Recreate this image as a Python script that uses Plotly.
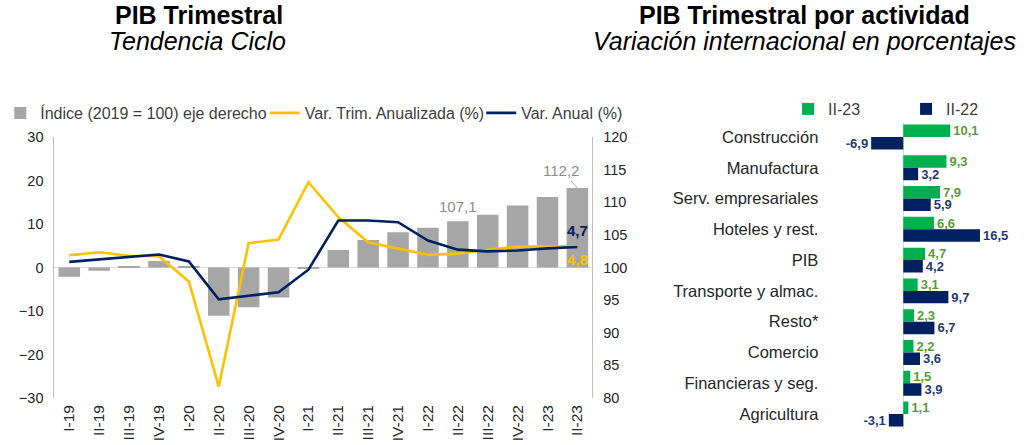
import plotly.graph_objects as go

W, H = 1029, 445

# ---------------- data ----------------
quarters = ["I-19", "II-19", "III-19", "IV-19", "I-20", "II-20", "III-20", "IV-20",
            "I-21", "II-21", "III-21", "IV-21", "I-22", "II-22", "III-22", "IV-22",
            "I-23", "II-23"]
indice = [98.6, 99.5, 100.2, 101.0, 100.2, 92.6, 93.9, 95.4,
          99.9, 102.7, 104.2, 105.4, 106.1, 107.1, 108.1, 109.5, 110.8, 112.2]
var_trim = [2.8, 3.5, 2.7, 2.6, -3.2, -27.4, 5.6, 6.4,
            19.6, 11.6, 5.8, 4.3, 2.9, 3.2, 4.1, 4.8, 4.8, 4.8]
var_anual = [1.3, 1.9, 2.5, 3.0, 1.4, -7.3, -6.5, -5.7,
             -0.5, 10.8, 10.8, 10.4, 6.2, 4.1, 3.7, 3.9, 4.4, 4.7]

actividades = ["Construcción", "Manufactura", "Serv. empresariales", "Hoteles y rest.",
               "PIB", "Transporte y almac.", "Resto*", "Comercio",
               "Financieras y seg.", "Agricultura"]
ii23 = [10.1, 9.3, 7.9, 6.6, 4.7, 3.1, 2.3, 2.2, 1.5, 1.1]
ii22 = [-6.9, 3.2, 5.9, 16.5, 4.2, 9.7, 6.7, 3.6, 3.9, -3.1]


def fmt(v):
    return f"{v:.1f}".replace(".", ",")


FONT = "Arial, Liberation Sans, sans-serif"
GRAY = "#A6A6A6"
YEL = "#FFC000"
NAVY = "#002060"
GREEN = "#00B050"
AXC = "#BFBFBF"
TXT = "#262626"

fig = go.Figure()

# ---------------- left chart ----------------
fig.add_trace(go.Bar(
    x=quarters, y=[v - 100 for v in indice], base=100, width=0.72,
    marker=dict(color=GRAY, line=dict(width=0)),
    name="Índice (2019 = 100) eje derecho", xaxis="x", yaxis="y", legend="legend"))
fig.add_trace(go.Scatter(
    x=quarters, y=var_trim, mode="lines", line=dict(color=YEL, width=2.6),
    name="Var. Trim. Anualizada (%)", xaxis="x", yaxis="y2", legend="legend2"))
fig.add_trace(go.Scatter(
    x=quarters, y=var_anual, mode="lines", line=dict(color=NAVY, width=2.6),
    name="Var. Anual (%)", xaxis="x", yaxis="y2", legend="legend3"))

# ---------------- right chart ----------------
fig.add_trace(go.Bar(
    y=actividades, x=ii23, orientation="h", marker=dict(color=GREEN, line=dict(width=0)),
    name="II-23", text=[fmt(v) for v in ii23], textposition="outside",
    textfont=dict(color="#5B9B3A", size=13, family=FONT, weight="bold"),
    constraintext="none", cliponaxis=False,
    xaxis="x3", yaxis="y3", legend="legend4"))
fig.add_trace(go.Bar(
    y=actividades, x=ii22, orientation="h", marker=dict(color=NAVY, line=dict(width=0)),
    name="II-22", text=[fmt(v) for v in ii22], textposition="outside",
    textfont=dict(color="#1F3A78", size=13, family=FONT, weight="bold"),
    constraintext="none", cliponaxis=False,
    xaxis="x3", yaxis="y3", legend="legend5"))

leg_common = dict(orientation="h", yanchor="middle", xanchor="left",
                  bgcolor="rgba(0,0,0,0)", font=dict(size=16, color="#404040", family=FONT),
                  itemwidth=30)

fig.update_layout(
    width=W, height=H,
    margin=dict(l=0, r=0, t=0, b=0),
    paper_bgcolor="white", plot_bgcolor="white",
    font=dict(family=FONT, color=TXT),
    barmode="group", bargap=0.19, bargroupgap=0,
    showlegend=True,
    legend=dict(leg_common, x=-17 / W, y=1 - 113 / H),
    legend2=dict(leg_common, x=252 / W, y=1 - 113 / H),
    legend3=dict(leg_common, x=472 / W, y=1 - 113 / H),
    legend4=dict(leg_common, x=784 / W, y=1 - 109 / H),
    legend5=dict(leg_common, x=904 / W, y=1 - 109 / H),
    xaxis=dict(domain=[38 / W, 585 / W], anchor="y", type="category",
               tickangle=-90, tickfont=dict(size=15.5, color=TXT),
               showline=False, ticks="", showgrid=False, zeroline=False,
               ticklabelstandoff=3, automargin=False),
    yaxis=dict(domain=[1 - 398 / H, 1 - 137 / H], anchor="x", side="right",
               range=[80, 120], dtick=5, showline=True, linecolor=AXC, linewidth=1,
               showgrid=False, zeroline=False, ticks="",
               tickfont=dict(size=14.5, color=TXT), ticklabelstandoff=7,
               automargin=False),
    yaxis2=dict(overlaying="y", anchor="x", side="left",
                range=[-30, 30], dtick=10, showline=True, linecolor=AXC, linewidth=1,
                showgrid=False, zeroline=True, zerolinecolor="#D9D9D9", zerolinewidth=1,
                ticks="", tickfont=dict(size=14.5, color=TXT), ticklabelstandoff=7,
                automargin=False),
    xaxis3=dict(domain=[826 / W, 1025 / W], anchor="y3", range=[-15.9, 26.2],
                showticklabels=False, showgrid=False, zeroline=True,
                zerolinecolor="#D9D9D9", zerolinewidth=1, showline=False, ticks="",
                automargin=False),
    yaxis3=dict(domain=[1 - 429.4 / H, 1 - 121.6 / H], anchor="x3",
                autorange="reversed", showgrid=False, zeroline=False, showline=False,
                ticks="", tickfont=dict(size=16.5, color=TXT), ticklabelstandoff=10,
                automargin=False),
)

annotations = [
    dict(text="<b>PIB Trimestral</b>", x=185.5 / W, y=1 - 15 / H, xref="paper", yref="paper",
         showarrow=False, font=dict(size=25, color="black"), xanchor="center", yanchor="middle"),
    dict(text="<i>Tendencia Ciclo</i>", x=184 / W, y=1 - 41 / H, xref="paper", yref="paper",
         showarrow=False, font=dict(size=25, color="black"), xanchor="center", yanchor="middle"),
    dict(text="<b>PIB Trimestral por actividad</b>", x=801 / W, y=1 - 15 / H, xref="paper",
         yref="paper", showarrow=False, font=dict(size=25, color="black"),
         xanchor="center", yanchor="middle"),
    dict(text="<i>Variación internacional en porcentajes</i>", x=801 / W, y=1 - 41 / H,
         xref="paper", yref="paper", showarrow=False, font=dict(size=25, color="black"),
         xanchor="center", yanchor="middle"),
    # data labels left chart
    dict(text=fmt(indice[13]), x=quarters[13], y=indice[13], xref="x", yref="y",
         showarrow=False, yanchor="bottom", yshift=4,
         font=dict(size=15, color="#8C8C8C")),
    dict(text=fmt(indice[17]), x=quarters[17], y=indice[17], xref="x", yref="y",
         showarrow=True, arrowhead=0, arrowwidth=1, arrowcolor="#A6A6A6",
         ax=-16, ay=-17, font=dict(size=15, color="#8C8C8C")),
    dict(text="<b>" + fmt(var_anual[17]) + "</b>", x=quarters[17], y=var_anual[17],
         xref="x", yref="y2", showarrow=False, yshift=17,
         font=dict(size=15, color=NAVY)),
    dict(text="<b>" + fmt(var_trim[17]) + "</b>", x=quarters[17], y=var_trim[17],
         xref="x", yref="y2", showarrow=False, yshift=-13,
         font=dict(size=15, color=YEL)),
]
fig.update_layout(annotations=annotations)

fig.write_html("out.html", config={"displayModeBar": False},
               post_script="document.body.style.margin='0px';")
